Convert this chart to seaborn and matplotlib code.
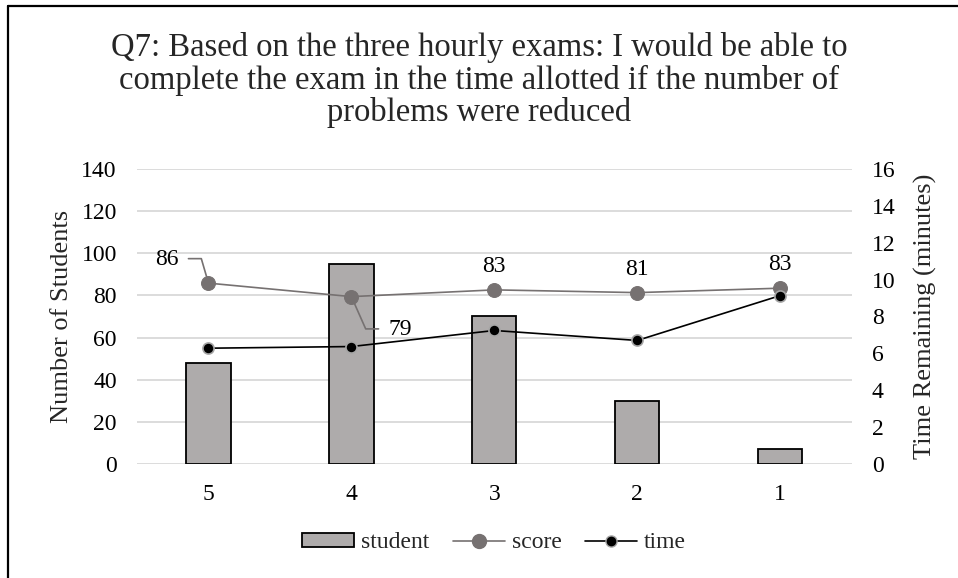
import matplotlib.pyplot as plt
import numpy as np
import seaborn as sns
from matplotlib.lines import Line2D
from matplotlib.patches import Patch

# chart values
categories = ["5", "4", "3", "2", "1"]
students = [48, 95, 70, 30, 7]
scores = [85.8, 79.4, 82.6, 81.3, 83.4]
times = [6.28, 6.37, 7.24, 6.70, 9.13]

TITLE = ("Q7: Based on the three hourly exams: I would be able to\n"
         "complete the exam in the time allotted if the number of\n"
         "problems were reduced")

BAR_GREY = "#AEABAB"
SCORE_GREY = "#767171"
GRID_GREY = "#D9D9D9"

sns.set_theme(style="white")
plt.rcParams["font.family"] = ["Liberation Serif", "DejaVu Serif"]

fig = plt.figure(figsize=(9.58, 5.78), dpi=100)
ax = fig.add_axes([0.143, 0.197, 0.746, 0.511])
ax2 = ax.twinx()

sns.barplot(x=categories, y=students, order=categories, color=BAR_GREY,
            edgecolor="black", linewidth=1.3, width=0.31, saturation=1, ax=ax, zorder=2)

pos = np.arange(len(categories))
sns.lineplot(x=pos, y=scores, ax=ax, color=SCORE_GREY, linewidth=1.2, marker="o",
             markersize=10, markeredgecolor=SCORE_GREY, sort=False, zorder=4)
sns.lineplot(x=pos, y=times, ax=ax2, color="black", linewidth=1.2, marker="o",
             markersize=8, markeredgecolor="#A6A6A6", markeredgewidth=1.2, sort=False, zorder=4)

ax.set_xlim(-0.5, len(categories) - 0.5)
ax.set_ylim(0, 140)
ax.set_yticks(range(0, 141, 20))
ax2.set_ylim(0, 16)
ax2.set_yticks(range(0, 17, 2))
ax.yaxis.grid(True, color=GRID_GREY, linewidth=1.3)
ax.set_axisbelow(True)
for a in (ax, ax2):
    for s in a.spines.values():
        s.set_visible(False)
    a.tick_params(length=0, labelsize=17, colors="black", pad=14.5)
ax.tick_params(axis="x", pad=14)

ax.set_ylabel("Number of Students", fontsize=19, labelpad=6)
ax2.set_ylabel("Time Remaining (minutes)", fontsize=19, labelpad=13)
ax.set_xlabel("")

# data labels for the score series
lbl = dict(fontsize=17, color="black", ha="center", va="center")
ax.annotate(f"{scores[0]:.0f}", xy=(0, scores[0]), xytext=(-0.29, 96.8), **lbl)
ax.plot([-0.14, -0.05, 0], [97.4, 97.4, scores[0]], color=SCORE_GREY, lw=1.2, zorder=3)
ax.annotate(f"{scores[1]:.0f}", xy=(1, scores[1]), xytext=(1.34, 63.6), **lbl)
ax.plot([1, 1.10, 1.19], [scores[1], 64.1, 64.1], color=SCORE_GREY, lw=1.2, zorder=3)
for i in range(2, len(categories)):
    ax.annotate(f"{scores[i]:.0f}", xy=(i, scores[i]), xytext=(0, 17),
                textcoords="offset points", **lbl)

fig.suptitle(TITLE, fontsize=23.5, y=1 - 80 / 578, va="center", linespacing=1.08)

handles = [
    Patch(facecolor=BAR_GREY, edgecolor="black", linewidth=1.3, label="student"),
    Line2D([], [], color=SCORE_GREY, lw=1.2, marker="o", markersize=10, label="score"),
    Line2D([], [], color="black", lw=1.2, marker="o", markersize=8,
           markeredgecolor="#A6A6A6", label="time"),
]
fig.legend(handles=handles, loc="center", bbox_to_anchor=(494 / 958, 1 - 543 / 578), ncol=3,
           frameon=False, fontsize=17, handlelength=2.2, handleheight=0.55,
           handletextpad=0.3, columnspacing=1.0)

# frame lines on the left and top edges
fig.add_artist(Line2D([8 / 958, 8 / 958], [0, 1 - 6 / 578], color="black", lw=1.6,
                      transform=fig.transFigure))
fig.add_artist(Line2D([8 / 958, 1], [1 - 6 / 578, 1 - 6 / 578], color="black", lw=1.6,
                      transform=fig.transFigure))

fig.savefig("out.png", dpi=100)
